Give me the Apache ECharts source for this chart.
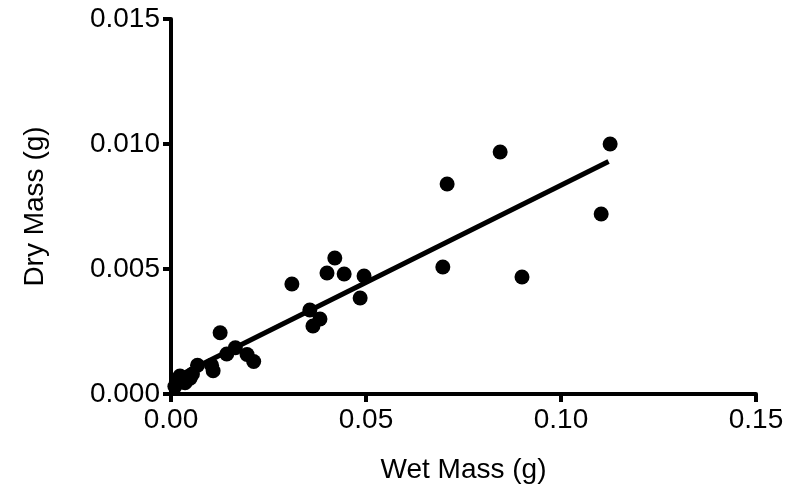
<!DOCTYPE html>
<html>
<head>
<meta charset="utf-8">
<script src="https://cdn.jsdelivr.net/npm/echarts@6/dist/echarts.min.js"></script>
<style>html,body{margin:0;padding:0;background:#fff;}#chart{width:788px;height:490px;}</style>
</head>
<body>
<div id="chart"></div>
<script>
// Wet mass (g)
var wetMass = [0.0010, 0.0015, 0.0023, 0.0036, 0.0049, 0.0055, 0.0068, 0.0104, 0.0108, 0.0126, 0.0143, 0.0165, 0.0195, 0.0212,
  0.0310, 0.0356, 0.0364, 0.0382, 0.0400, 0.0420, 0.0444, 0.0485, 0.0495,
  0.0697, 0.0708, 0.0844, 0.0900, 0.1103, 0.1126];
// Dry mass (g)
var dryMass = [0.00030, 0.00056, 0.00072, 0.00045, 0.00063, 0.00080, 0.00115, 0.00115, 0.00093, 0.00245, 0.00160, 0.00185, 0.00158, 0.00130,
  0.00440, 0.00336, 0.00272, 0.00300, 0.00484, 0.00544, 0.00480, 0.00384, 0.00472,
  0.00508, 0.00840, 0.00968, 0.00468, 0.00720, 0.01000];
// Fitted line endpoints
var fitX = [0.0006, 0.1122];
var fitY = [0.00062, 0.00930];
var xTicks = [0, 0.05, 0.10, 0.15];
var yTicks = [0, 0.005, 0.010, 0.015];

var points = wetMass.map(function (x, i) { return [x, dryMass[i]]; });
var fitLine = fitX.map(function (x, i) { return [x, fitY[i]]; });

var font = 'Liberation Sans';
var fs = 28;
var chart = echarts.init(document.getElementById('chart'));
chart.setOption({
  animation: false,
  backgroundColor: '#fff',
  grid: { left: 171, right: 32, top: 19, bottom: 96 },
  xAxis: {
    type: 'value', min: 0, max: 0.15, interval: 0.05,
    name: 'Wet Mass (g)', nameLocation: 'middle', nameGap: 62,
    nameTextStyle: { fontFamily: font, fontSize: fs, color: '#000' },
    axisLine: { show: true, lineStyle: { color: '#000', width: 4 } },
    axisTick: { show: true, length: 8, lineStyle: { color: '#000', width: 4 } },
    axisLabel: { margin: 12, fontFamily: font, fontSize: fs, color: '#000',
      formatter: function (v) { return v.toFixed(2); } },
    splitLine: { show: false }
  },
  yAxis: {
    type: 'value', min: 0, max: 0.015, interval: 0.005,
    name: 'Dry Mass (g)', nameLocation: 'middle', nameGap: 122,
    nameTextStyle: { fontFamily: font, fontSize: fs, color: '#000' },
    axisLine: { show: true, lineStyle: { color: '#000', width: 4 } },
    axisTick: { show: true, length: 8, lineStyle: { color: '#000', width: 4 } },
    axisLabel: { margin: 11, fontFamily: font, fontSize: fs, color: '#000',
      formatter: function (v) { return v.toFixed(3); } },
    splitLine: { show: false }
  },
  series: [
    { type: 'line', data: fitLine, symbol: 'none', lineStyle: { color: '#000', width: 5 }, z: 2 },
    { type: 'scatter', data: points, symbol: 'circle', symbolSize: 15, itemStyle: { color: '#000', opacity: 1 }, z: 3 }
  ]
});
</script>
</body>
</html>
